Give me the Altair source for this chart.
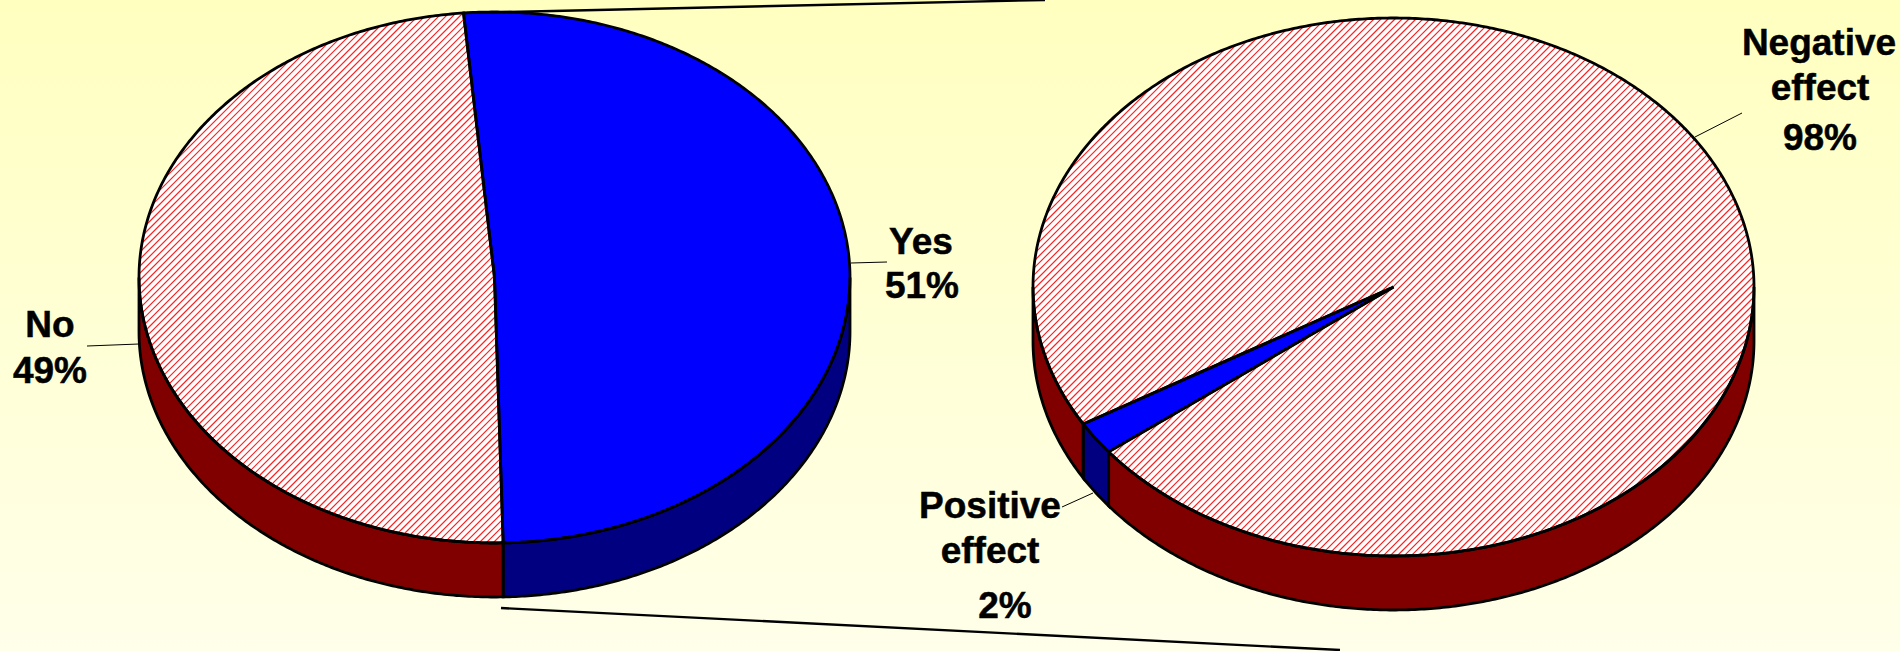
import numpy as np
import altair as alt

W, H = 1900, 651

# Survey shares for each pie
left_names = ["Yes", "No"]
left_shares = [51, 49]
right_names = ["Positive effect", "Negative effect"]
right_shares = [2, 98]

# Pie placement: centre x, centre y, radius x, radius y, rim depth, start angle (deg, clockwise from top)
left_pie = dict(cx=494.5, cy=277.5, rx=355.5, ry=265.5, depth=54.0, start=-5.0)
right_pie = dict(cx=1393.5, cy=287.0, rx=360.5, ry=269.0, depth=54.0, start=232.2)

BLUE, NAVY, MAROON, PAPER, HATCH = "#0000ff", "#000080", "#800000", "#ffffff", "#ff2020"
left_top = [BLUE, "hatch"]
left_wall = [NAVY, MAROON]
right_top = [BLUE, "hatch"]
right_wall = [NAVY, MAROON]

# Label rows: text, centre x, baseline y
label_text = ["Yes", f"{left_shares[0]}%", "No", f"{left_shares[1]}%",
              "Positive", "effect", f"{right_shares[0]}%",
              "Negative", "effect", f"{right_shares[1]}%"]
label_x = [921, 922, 50, 50, 990, 990, 1005, 1819, 1820, 1820]
label_y = [254, 298, 337, 383, 518, 563, 618, 55, 100, 150]

# Thin leader lines from the labels to the slices
leader_x = [851, 87, 1062, 1695]
leader_y = [263, 346, 507, 137]
leader_x2 = [887, 139, 1093, 1742]
leader_y2 = [262, 344, 493, 113]

# Heavy lines joining the two pies
link_x = [463, 501]
link_y = [13, 608]
link_x2 = [1045, 1340]
link_y2 = [0, 650]


def rim(p, a, b, dy=0.0):
    """Points along the pie's elliptical edge between two angles."""
    n = max(2, int(abs(b - a) * 2) + 1)
    t = np.radians(np.linspace(a, b, n))
    return np.column_stack((p["cx"] + p["rx"] * np.sin(t),
                            p["cy"] - p["ry"] * np.cos(t) + dy))


def feature(geometry, **props):
    return {"type": "Feature", "geometry": geometry, "properties": props}


def build_pie(p, shares, top_colors, wall_colors):
    tops, walls, hatch_rings = [], [], []
    angle = p["start"]
    for share, top, wall in zip(shares, top_colors, wall_colors):
        end = angle + share * 3.6
        ring = np.vstack(([[p["cx"], p["cy"]]], rim(p, angle, end), [[p["cx"], p["cy"]]]))
        tops.append(feature({"type": "Polygon", "coordinates": [ring.tolist()]},
                            fill=PAPER if top == "hatch" else top))
        if top == "hatch":
            hatch_rings.append(ring)
        # The rim is visible on the near half of the ellipse only
        for lo, hi in ((90, 270), (450, 630), (-270, -90)):
            a, b = max(angle, lo), min(end, hi)
            if b > a:
                upper = rim(p, a, b)
                lower = rim(p, a, b, p["depth"])[::-1]
                wall_ring = np.vstack((upper, lower, upper[:1]))
                walls.append(feature({"type": "Polygon", "coordinates": [wall_ring.tolist()]},
                                     fill=wall))
        angle = end
    return tops, walls, hatch_rings


def hatch_lines(ring, step=7.0):
    """Clip 45-degree lines (x + y = c) to a closed ring."""
    s = ring[:, 0] + ring[:, 1]
    out = []
    for c in np.arange(np.ceil(s.min() / step) * step, s.max(), step):
        hits = []
        for (x0, y0), (x1, y1), s0, s1 in zip(ring[:-1], ring[1:], s[:-1], s[1:]):
            if (s0 - c) * (s1 - c) < 0:
                k = (c - s0) / (s1 - s0)
                hits.append(x0 + k * (x1 - x0))
        hits.sort()
        for xa, xb in zip(hits[::2], hits[1::2]):
            out.append([[xa, c - xa], [xb, c - xb]])
    return out


tops_l, walls_l, rings_l = build_pie(left_pie, left_shares, left_top, left_wall)
tops_r, walls_r, rings_r = build_pie(right_pie, right_shares, right_top, right_wall)
faces = walls_l + walls_r + tops_l + tops_r
hatching = [feature({"type": "MultiLineString",
                     "coordinates": [seg for r in rings_l + rings_r for seg in hatch_lines(r)]})]

pixels = dict(type="identity", scale=1, translate=[0, 0])
x_scale = alt.Scale(domain=[0, W], range=[0, W], nice=False, zero=False)
y_scale = alt.Scale(domain=[0, H], range=[0, H], nice=False, zero=False)

backdrop = alt.Chart(alt.Data(values=[{"x": 0, "x2": W, "y": 0, "y2": H}])).mark_rect(
    fill=alt.LinearGradient(gradient="linear", x1=0, y1=0, x2=0, y2=1, stops=[
        alt.GradientStop(offset=0, color="#ffffc0"),
        alt.GradientStop(offset=1, color="#ffffea"),
    ])
).encode(
    x=alt.X("x:Q", scale=x_scale, axis=None), x2="x2:Q",
    y=alt.Y("y:Q", scale=y_scale, axis=None), y2="y2:Q",
)

face_fill = alt.Chart(alt.Data(values=faces)).mark_geoshape(strokeWidth=0).encode(
    fill=alt.Fill("properties.fill:N", scale=None, legend=None)
).project(**pixels)

hatch = alt.Chart(alt.Data(values=hatching)).mark_geoshape(
    filled=False, stroke=HATCH, strokeWidth=1.2
).project(**pixels)

outline = alt.Chart(alt.Data(values=faces)).mark_geoshape(
    filled=False, stroke="#000000", strokeWidth=2.8
).project(**pixels)


def segments(xs, ys, xs2, ys2, width):
    rows = [{"x": a, "y": b, "x2": c, "y2": d} for a, b, c, d in zip(xs, ys, xs2, ys2)]
    return alt.Chart(alt.Data(values=rows)).mark_rule(stroke="#000000", strokeWidth=width).encode(
        x=alt.X("x:Q", scale=x_scale, axis=None), x2="x2:Q",
        y=alt.Y("y:Q", scale=y_scale, axis=None), y2="y2:Q",
    )


leaders = segments(leader_x, leader_y, leader_x2, leader_y2, 1.0)
links = segments(link_x, link_y, link_x2, link_y2, 2.4)

labels = alt.Chart(alt.Data(values=[
    {"t": t, "x": x, "y": y} for t, x, y in zip(label_text, label_x, label_y)
])).mark_text(
    font="Liberation Sans", fontSize=37, fontWeight="bold", color="#000000",
    stroke="#000000", strokeWidth=0.5,
    align="center", baseline="alphabetic"
).encode(
    x=alt.X("x:Q", scale=x_scale, axis=None),
    y=alt.Y("y:Q", scale=y_scale, axis=None),
    text="t:N",
)

chart = alt.layer(backdrop, face_fill, hatch, outline, leaders, links, labels).properties(
    width=W, height=H, padding=0, autosize="none"
).configure_view(stroke=None)

chart.save("out.html", embed_options={"renderer": "svg", "actions": False})
